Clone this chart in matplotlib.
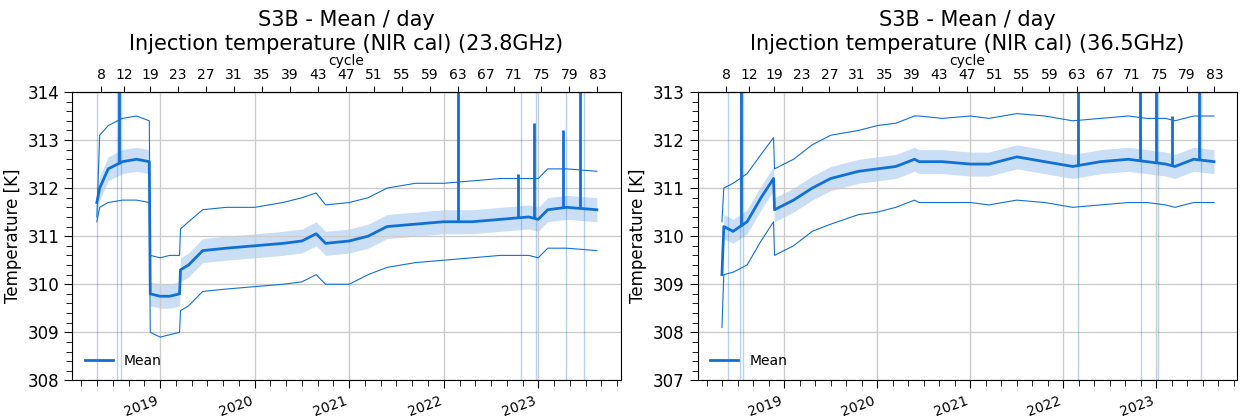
import numpy as np
import matplotlib.pyplot as plt
from matplotlib.ticker import MultipleLocator, FixedLocator, NullFormatter

BLUE = "#1170d8"

# --- data (decimal years) ---
t_a = [2018.33, 2018.36, 2018.45, 2018.6, 2018.75, 2018.885, 2018.895, 2019.0, 2019.1, 2019.205, 2019.215,
       2019.3, 2019.45, 2019.7, 2020.0, 2020.3, 2020.5, 2020.65, 2020.75, 2021.0, 2021.2, 2021.4,
       2021.7, 2022.0, 2022.3, 2022.6, 2022.9, 2023.0, 2023.1, 2023.3, 2023.62]
mean_a = [311.7, 312.0, 312.4, 312.55, 312.6, 312.55, 309.8, 309.75, 309.75, 309.8, 310.3,
          310.4, 310.7, 310.75, 310.8, 310.85, 310.9, 311.05, 310.85, 310.9, 311.0, 311.2,
          311.25, 311.3, 311.3, 311.35, 311.4, 311.35, 311.55, 311.6, 311.55]
max_a = [311.4, 313.1, 313.3, 313.45, 313.5, 313.4, 310.6, 310.55, 310.6, 310.6, 311.15,
         311.3, 311.55, 311.6, 311.6, 311.7, 311.8, 311.9, 311.65, 311.7, 311.8, 312.0,
         312.1, 312.1, 312.15, 312.2, 312.2, 312.2, 312.4, 312.4, 312.35]
min_a = [311.3, 311.6, 311.7, 311.75, 311.75, 311.7, 309.0, 308.9, 308.95, 309.0, 309.45,
         309.55, 309.85, 309.9, 309.95, 310.0, 310.05, 310.2, 310.0, 310.0, 310.2, 310.35,
         310.45, 310.5, 310.55, 310.6, 310.6, 310.55, 310.75, 310.75, 310.7]
spk_a = [2018.56, 2022.15, 2022.79, 2022.95, 2023.26, 2023.44]
spk_top_a = [314.0, 314.0, 312.3, 313.35, 313.2, 314.0]
faint_a = [2018.33, 2018.54, 2018.59, 2022.82, 2022.98, 2023.29, 2023.48]

t_b = [2018.33, 2018.35, 2018.45, 2018.6, 2018.75, 2018.885, 2018.895, 2019.1, 2019.3, 2019.5, 2019.8,
       2020.0, 2020.2, 2020.4, 2020.45, 2020.7, 2021.0, 2021.2, 2021.5, 2021.8, 2022.1, 2022.4,
       2022.7, 2022.9, 2023.1, 2023.2, 2023.4, 2023.62]
mean_b = [309.2, 310.2, 310.1, 310.3, 310.8, 311.2, 310.55, 310.75, 311.0, 311.2, 311.35,
          311.4, 311.45, 311.6, 311.55, 311.55, 311.5, 311.5, 311.65, 311.55, 311.45, 311.55,
          311.6, 311.55, 311.5, 311.45, 311.6, 311.55]
max_b = [310.3, 311.0, 311.1, 311.3, 311.7, 312.05, 311.4, 311.6, 311.9, 312.1, 312.2,
         312.3, 312.35, 312.5, 312.5, 312.45, 312.5, 312.45, 312.55, 312.5, 312.4, 312.45,
         312.5, 312.45, 312.45, 312.4, 312.5, 312.5]
min_b = [308.1, 309.2, 309.25, 309.4, 309.9, 310.3, 309.6, 309.8, 310.1, 310.25, 310.45,
         310.5, 310.6, 310.75, 310.7, 310.7, 310.7, 310.65, 310.75, 310.7, 310.6, 310.65,
         310.7, 310.7, 310.65, 310.6, 310.7, 310.7]
spk_b = [2018.53, 2022.16, 2022.82, 2023.0, 2023.17, 2023.46]
spk_top_b = [313.0, 313.0, 313.0, 313.0, 312.5, 313.0]
faint_b = [2018.4, 2018.52, 2018.56, 2022.16, 2022.84, 2023.02, 2023.48]

cycles = [8, 12, 19, 23, 27, 31, 35, 39, 43, 47, 51, 55, 59, 63, 67, 71, 75, 79, 83]
cycle_dates = [2018.376, 2018.62] + [2018.894 + (c - 19) * 27 / 365.25 for c in cycles[2:]]

fig = plt.figure(figsize=(12.46, 4.18), dpi=100)
axes = [fig.add_axes([0.058, 0.09, 0.44, 0.69]), fig.add_axes([0.56, 0.09, 0.433, 0.69])]
panels = [
    ("23.8GHz", t_a, mean_a, max_a, min_a, spk_a, spk_top_a, faint_a, (308, 314)),
    ("36.5GHz", t_b, mean_b, max_b, min_b, spk_b, spk_top_b, faint_b, (307, 313)),
]

for ax, (freq, t, m, hi, lo, spk, spk_top, faint, ylim) in zip(axes, panels):
    m = np.array(m)
    for x in faint:
        ax.axvline(x, color=BLUE, alpha=0.3, lw=1)
    ax.fill_between(t, m - 0.25, m + 0.25, color=BLUE, alpha=0.22, lw=0)
    ax.plot(t, hi, color=BLUE, lw=0.8)
    ax.plot(t, lo, color=BLUE, lw=0.8)
    ax.plot(t, m, color=BLUE, lw=2, label="Mean")
    for x, top in zip(spk, spk_top):
        ax.vlines(x, np.interp(x, t, m), top, color=BLUE, lw=2)
    ax.set_xlim(2018.07, 2023.87)
    ax.set_ylim(*ylim)
    ax.xaxis.set_major_locator(FixedLocator([2019, 2020, 2021, 2022, 2023]))
    ax.set_xticklabels(["2019", "2020", "2021", "2022", "2023"], rotation=20, ha="right", fontsize=10)
    ax.xaxis.set_minor_locator(MultipleLocator(1 / 6))
    ax.yaxis.set_major_locator(MultipleLocator(1))
    ax.yaxis.set_minor_locator(MultipleLocator(0.2))
    ax.tick_params(axis="y", labelsize=12, length=6)
    ax.tick_params(axis="x", length=6)
    ax.tick_params(which="minor", length=4)
    ax.grid(True, color="#cccccc", lw=1)
    ax.set_ylabel("Temperature [K]", fontsize=12)
    ax.legend(loc="lower left", frameon=False, fontsize=10)
    ax.set_title(f"S3B - Mean / day\nInjection temperature (NIR cal) ({freq})", fontsize=15, pad=3)
    sec = ax.secondary_xaxis("top")
    sec.xaxis.set_major_locator(FixedLocator(cycle_dates))
    sec.set_xticklabels([str(c) for c in cycles], fontsize=10)
    sec.xaxis.set_minor_formatter(NullFormatter())
    sec.set_xlabel("cycle", fontsize=10, labelpad=2)
    sec.tick_params(length=4)

fig.savefig("out.png", dpi=100)
